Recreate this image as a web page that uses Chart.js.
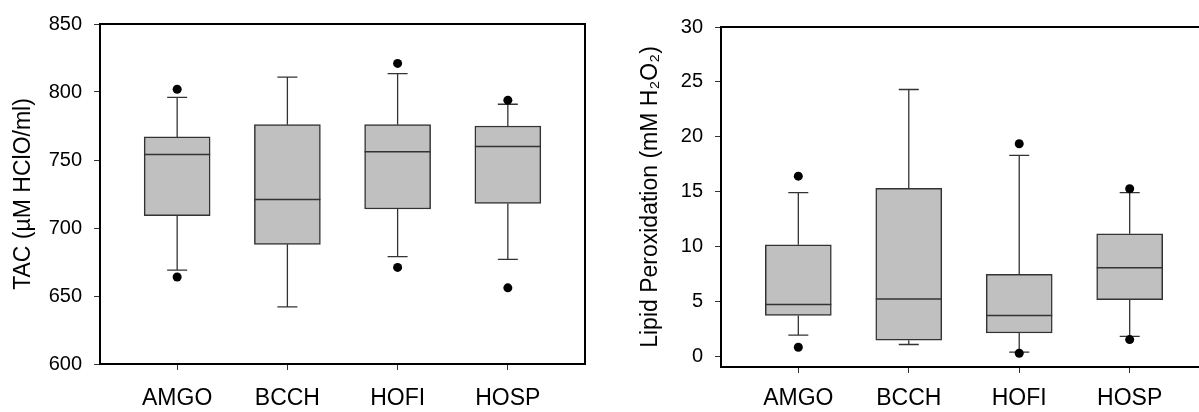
<!DOCTYPE html>
<html>
<head>
<meta charset="utf-8">
<script src="https://cdn.jsdelivr.net/npm/chart.js@4"></script>
<style>
  html, body { margin: 0; padding: 0; background: #fff; overflow: hidden; }
  #wrap { position: relative; width: 1199px; height: 412px; overflow: hidden; }
  #tacCanvas { position: absolute; left: 0; top: 0; }
  #lpCanvas { position: absolute; left: 600px; top: 0; }
</style>
</head>
<body>
<div id="wrap">
  <canvas id="tacCanvas" width="600" height="412"></canvas>
  <canvas id="lpCanvas" width="620" height="412"></canvas>
</div>
<script>
// categories
const categories = ['AMGO', 'BCCH', 'HOFI', 'HOSP'];

// TAC (µM HClO/ml) - boxplot values
const tacLow = [669, 642, 679, 677];
const tacQ1 = [709, 688, 714, 718];
const tacMed = [754, 721, 756, 760];
const tacQ3 = [767, 776, 776, 775];
const tacHigh = [796, 811, 813.5, 791];
const tacOutliers = [[664, 802], [], [671, 821], [656, 794]];
const tacTicks = [600, 650, 700, 750, 800, 850];

// Lipid peroxidation (mM H2O2) - boxplot values
const lpLow = [1.9, 1.05, 0.35, 1.8];
const lpQ1 = [3.7, 1.45, 2.1, 5.15];
const lpMed = [4.7, 5.2, 3.7, 8.05];
const lpQ3 = [10.15, 15.3, 7.45, 11.15];
const lpHigh = [14.9, 24.3, 18.3, 14.9];
const lpOutliers = [[0.8, 16.4], [], [0.25, 19.35], [1.5, 15.25]];
const lpTicks = [0, 5, 10, 15, 20, 25, 30];

const FONT = "'Liberation Sans', Arial, sans-serif";
const LINE = '#333333';

// plugin : cadre, moustaches et mediane
const boxPlugin = {
    id: 'boxPlugin',
    beforeDatasetsDraw(chart) {
        const a = chart.chartArea;
        const ctx = chart.ctx;
        ctx.save();
        ctx.strokeStyle = '#000';
        ctx.lineWidth = 2;
        ctx.strokeRect(a.left, a.top, a.right - a.left, a.bottom - a.top);
        ctx.restore();
    },
    afterDatasetDraw(chart, args) {
        if (args.meta.type !== 'bar') return;
        const box = chart.options.plugins.boxPlugin;
        const xs = chart.scales.x;
        const ys = chart.scales.y;
        const ctx = chart.ctx;
        ctx.save();
        ctx.strokeStyle = LINE;
        ctx.lineWidth = 1.3;
        for (let i = 0; i < box.med.length; i++) {
            const x = xs.getPixelForValue(i + 1);
            const el = args.meta.data[i];
            const half = el.width / 2;
            // moustaches
            ctx.beginPath();
            ctx.moveTo(x, ys.getPixelForValue(box.q3[i]));
            ctx.lineTo(x, ys.getPixelForValue(box.high[i]));
            ctx.moveTo(x, ys.getPixelForValue(box.q1[i]));
            ctx.lineTo(x, ys.getPixelForValue(box.low[i]));
            // petites barres aux extremites
            ctx.moveTo(x - 10, ys.getPixelForValue(box.high[i]));
            ctx.lineTo(x + 10, ys.getPixelForValue(box.high[i]));
            ctx.moveTo(x - 10, ys.getPixelForValue(box.low[i]));
            ctx.lineTo(x + 10, ys.getPixelForValue(box.low[i]));
            ctx.stroke();
            // mediane
            ctx.beginPath();
            ctx.lineWidth = 1.5;
            ctx.moveTo(x - half, ys.getPixelForValue(box.med[i]));
            ctx.lineTo(x + half, ys.getPixelForValue(box.med[i]));
            ctx.stroke();
            ctx.lineWidth = 1.3;
        }
        ctx.restore();
    }
};

function makeBoxChart(canvasId, d) {
    const ctx = document.getElementById(canvasId).getContext('2d');
    const boxes = categories.map((c, i) => ({ x: i + 1, y: [d.q1[i], d.q3[i]] }));
    const points = [];
    d.outliers.forEach((list, i) => list.forEach(v => points.push({ x: i + 1, y: v })));

    return new Chart(ctx, {
        type: 'bar',
        data: {
            datasets: [{
                type: 'bar',
                data: boxes,
                backgroundColor: '#c0c0c0',
                borderColor: LINE,
                borderWidth: 1.5,
                borderSkipped: false,
                barThickness: 66,
                order: 2
            }, {
                type: 'scatter',
                data: points,
                backgroundColor: '#000',
                borderColor: '#000',
                pointRadius: 4.5,
                borderWidth: 0,
                order: 1
            }]
        },
        plugins: [boxPlugin],
        options: {
            responsive: false,
            animation: false,
            layout: { padding: { top: d.top, right: d.right, left: 0, bottom: 0 } },
            plugins: {
                legend: { display: false },
                tooltip: { enabled: false },
                boxPlugin: d
            },
            scales: {
                x: {
                    type: 'linear',
                    min: 0.3,
                    max: 4.7,
                    offset: false,
                    afterBuildTicks: s => { s.ticks = categories.map((c, i) => ({ value: i + 1 })); },
                    afterFit: s => { s.height = d.xHeight; },
                    border: { display: false },
                    grid: { drawOnChartArea: false, offset: false, color: LINE, tickLength: 6, lineWidth: 1 },
                    ticks: {
                        color: '#000',
                        padding: d.xPad,
                        maxRotation: 0,
                        font: { family: FONT, size: 23 },
                        callback: v => categories[v - 1]
                    }
                },
                y: {
                    min: d.min,
                    max: d.max,
                    afterBuildTicks: s => { s.ticks = d.ticks.map(v => ({ value: v })); },
                    afterFit: s => { s.width = d.yWidth; },
                    border: { display: false },
                    grid: { drawOnChartArea: false, color: LINE, tickLength: 6, lineWidth: 1 },
                    ticks: {
                        color: '#000',
                        padding: 12,
                        font: { family: FONT, size: 20 }
                    },
                    title: {
                        display: true,
                        text: d.title,
                        color: '#000',
                        padding: { top: d.titlePad, bottom: 0 },
                        font: { family: FONT, size: 23 }
                    }
                }
            }
        }
    });
}

makeBoxChart('tacCanvas', {
    low: tacLow, q1: tacQ1, med: tacMed, q3: tacQ3, high: tacHigh, outliers: tacOutliers,
    ticks: tacTicks, min: 600, max: 850,
    title: 'TAC (\u00B5M HClO/ml)',
    top: 24, right: 15, xHeight: 48, yWidth: 100, titlePad: 10, xPad: 15
});

makeBoxChart('lpCanvas', {
    low: lpLow, q1: lpQ1, med: lpMed, q3: lpQ3, high: lpHigh, outliers: lpOutliers,
    ticks: lpTicks, min: -1, max: 30,
    title: 'Lipid Peroxidation (mM H\u2082O\u2082)',
    top: 27, right: 13, xHeight: 45, yWidth: 121, titlePad: 37, xPad: 12
});
</script>
</body>
</html>
